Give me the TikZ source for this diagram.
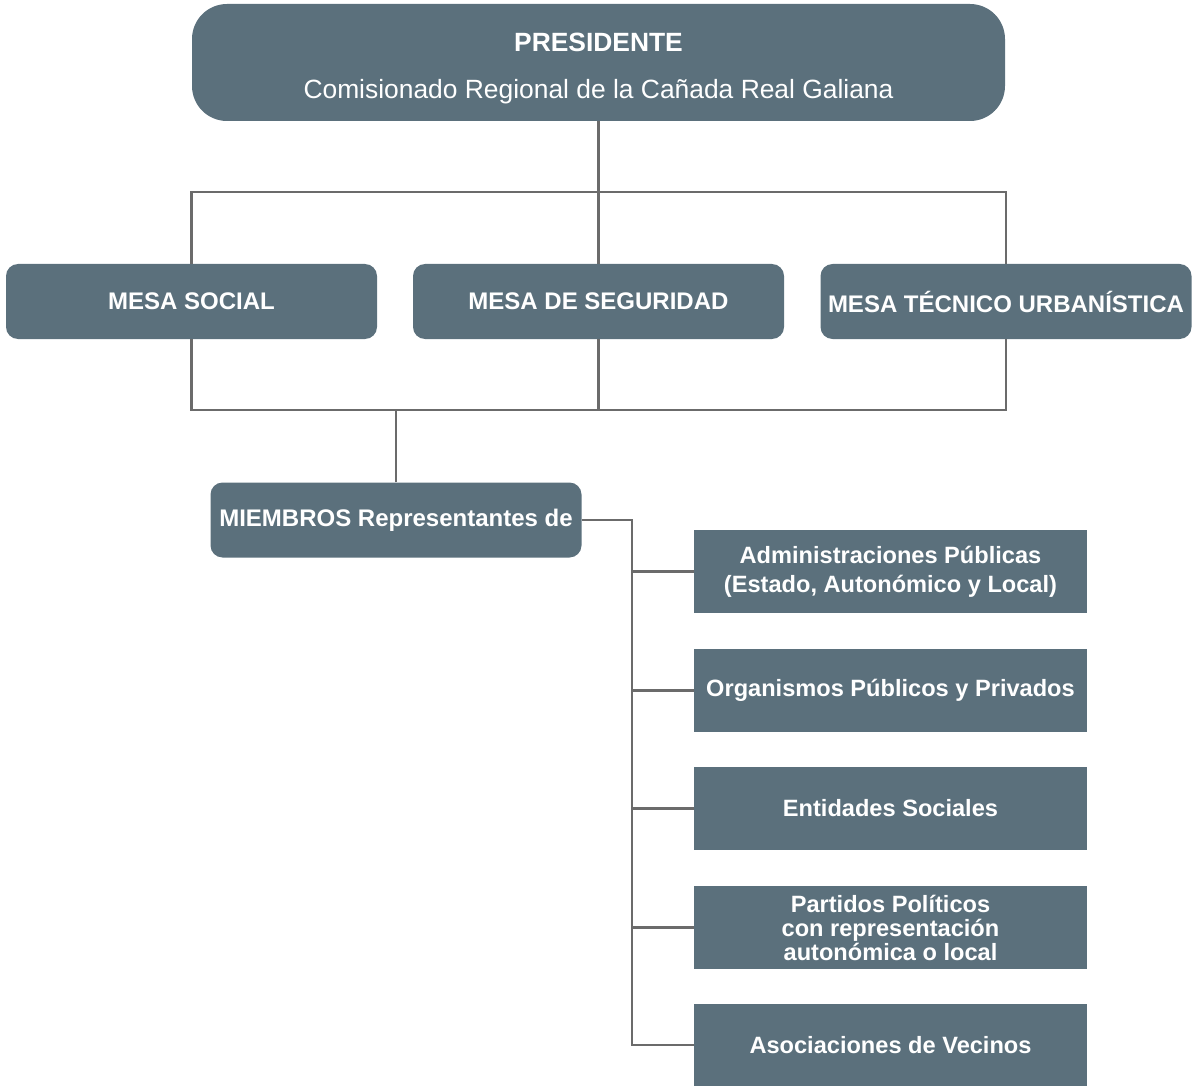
\documentclass[tikz,border=0pt]{standalone}
\usepackage{fontspec}
\setmainfont{Liberation Sans}
\usepackage{xcolor}
\usepackage{tikz}

\definecolor{boxgray}{HTML}{5B707C}
\definecolor{linegray}{HTML}{6B6B6B}

\tikzset{
  head/.style={fill=boxgray, text=white, rounded corners=35pt, inner sep=0pt,
    minimum width=813pt, minimum height=117pt, align=center,
    font=\fontsize{26.4}{30}\selectfont},
  mesa/.style={fill=boxgray, text=white, rounded corners=12pt, inner sep=0pt,
    minimum width=371pt, minimum height=75pt, align=center,
    font=\fontsize{24}{29}\selectfont\bfseries},
  member/.style={fill=boxgray, text=white, inner sep=0pt,
    minimum width=393pt, minimum height=83pt, align=center,
    font=\fontsize{23.6}{29}\selectfont\bfseries},
  link/.style={draw=linegray, line width=2.2pt}
}

\begin{document}
\begin{tikzpicture}[x=1pt, y=-1pt]

  \useasboundingbox (0,0) rectangle (1200,1086);

  % president
  \node [head] (pres) at (598.5, 62.5)
    {\rule{0pt}{30pt}\textbf{PRESIDENTE}\\[17pt]
     Comisionado Regional de la Cañada Real Galiana};

  % mesas
  \node [mesa] (social)    at (191.5, 301.5) {MESA SOCIAL};
  \node [mesa] (seguridad) at (598.5, 301.5) {MESA DE SEGURIDAD};
  \node [mesa] (tecnico)   at (1006,  301.5) {MESA TÉCNICO URBANÍSTICA};

  % members
  \node [mesa] (miembros)  at (396,   520)   {MIEMBROS Representantes de};

  \node [member] (adm)  at (890.5, 571.5) {Administraciones Públicas\\(Estado, Autonómico y Local)};
  \node [member] (org)  at (890.5, 690.5) {Organismos Públicos y Privados};
  \node [member] (ent)  at (890.5, 808.5) {Entidades Sociales};
  \node [member, font=\fontsize{23.6}{24}\selectfont\bfseries]
                 (part) at (890.5, 927.5) {Partidos Políticos\\con representación\\autonómica o local};
  \node [member] (asoc) at (890.5, 1045)  {Asociaciones de Vecinos};

  % bus coordinates
  \coordinate (topbus) at (0, 192);
  \coordinate (lowbus) at (0, 410);
  \coordinate (spine)  at (632, 0);

  % upper connectors
  \draw [link] (pres.south) -- (seguridad.north);
  \draw [link] (social.north) -- (social.north |- topbus) -- (tecnico.north |- topbus) -- (tecnico.north);

  % lower connectors
  \draw [link] (social.south) -- (social.south |- lowbus) -- (tecnico.south |- lowbus) -- (tecnico.south);
  \draw [link] (seguridad.south) -- (seguridad.south |- lowbus);
  \draw [link] (miembros.north) -- (miembros.north |- lowbus);

  % member connectors
  \draw [link] (miembros.east) -- (miembros.east -| spine) -- (spine |- asoc.west) -- (asoc.west);
  \foreach \n in {adm, org, ent, part}
    \draw [link] (spine |- \n.west) -- (\n.west);

\end{tikzpicture}
\end{document}
